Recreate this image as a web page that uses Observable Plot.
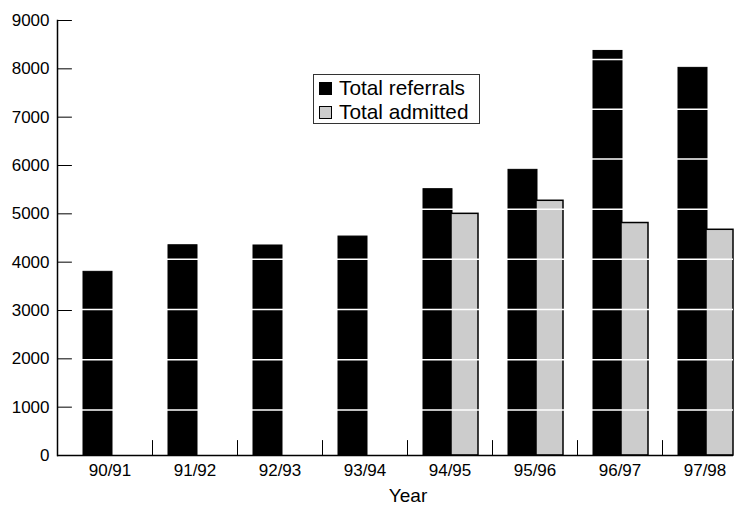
<!DOCTYPE html>
<html>
<head>
<meta charset="utf-8">
<script src="https://cdn.jsdelivr.net/npm/d3@7"></script>
<script src="https://cdn.jsdelivr.net/npm/@observablehq/plot@0.6"></script>
<style>
  html, body { margin: 0; padding: 0; background: white; }
  #wrap { position: relative; width: 746px; height: 506px; font-family: "Liberation Sans", Arial, Helvetica, sans-serif; }
  #legend { position: absolute; left: 313px; top: 74px; width: 165px; height: 47px; border: 1.5px solid #333; background: white; padding-top: 1px; }
  .row { display: flex; align-items: center; height: 24px; font-size: 20.8px; color: black; }
  .sw { width: 13px; height: 13px; margin-left: 5px; margin-right: 7px; box-sizing: border-box; border: 1px solid black; }
</style>
</head>
<body>
<div id="wrap"></div>
<script>
const years = ["90/91", "91/92", "92/93", "93/94", "94/95", "95/96", "96/97", "97/98"];
const referrals = [3800, 4350, 4345, 4530, 5510, 5910, 8370, 8020];
const admitted = [null, null, null, null, 5000, 5270, 4810, 4670];
const yTicks = [0, 1000, 2000, 3000, 4000, 5000, 6000, 7000, 8000, 9000];
const gridLines = [940, 1980, 3020, 4060, 5095, 6135, 7165, 8195];
const seriesNames = ["Total referrals", "Total admitted"];
const seriesColors = ["#000000", "#cccccc"];

const refData = years.map((year, i) => ({year, value: referrals[i]}));
const admData = years.map((year, i) => ({year, value: admitted[i]})).filter(d => d.value != null);

const xRange = [67, 747];
const half = (xRange[1] - xRange[0]) / years.length / 2;
const tickShape = {draw(context, l) { context.moveTo(0, 0); context.lineTo(0, -l); }};

const chart = Plot.plot({
  width: 746,
  height: 506,
  marginLeft: 57,
  marginRight: 13,
  marginTop: 20,
  marginBottom: 51,
  style: {fontFamily: "'Liberation Sans', Arial, Helvetica, sans-serif", background: "white", color: "black"},
  x: {type: "band", domain: years, range: xRange, padding: 0, label: null},
  y: {domain: [0, 9000], label: null},
  marks: [
    Plot.barY(refData, {x: "year", y: "value", fill: seriesColors[0], stroke: "black", strokeWidth: 1, insetLeft: 16, insetRight: 40}),
    Plot.barY(admData, {x: "year", y: "value", fill: seriesColors[1], stroke: "black", strokeWidth: 1.5, insetLeft: 44, insetRight: 14}),
    Plot.ruleY(gridLines, {stroke: "white", strokeWidth: 1.5}),
    Plot.frame({anchor: "left", stroke: "black", strokeWidth: 1.5}),
    Plot.ruleY([0], {stroke: "black", strokeWidth: 1.5}),
    Plot.vector(yTicks, {y: d => d, frameAnchor: "left", length: 14, rotate: 90, anchor: "start", shape: tickShape, stroke: "black", strokeWidth: 1}),
    Plot.vector(years.slice(1), {x: d => d, frameAnchor: "bottom", length: 15, anchor: "start", shape: tickShape, dx: -half, stroke: "black", strokeWidth: 1}),
    Plot.axisY(yTicks, {tickSize: 0, tickPadding: 8, fontSize: 17, label: null, tickFormat: d3.format("d")}),
    Plot.axisX({tickSize: 0, tickPadding: 8, fontSize: 17, label: null}),
    Plot.text(["Year"], {frameAnchor: "bottom", lineAnchor: "bottom", dy: 46.5, dx: 12.5, fontSize: 19, fill: "black"})
  ]
});

const wrap = document.getElementById("wrap");
wrap.appendChild(chart);

const legend = document.createElement("div");
legend.id = "legend";
seriesNames.forEach((name, i) => {
  const row = document.createElement("div");
  row.className = "row";
  const sw = document.createElement("span");
  sw.className = "sw";
  sw.style.background = seriesColors[i];
  const label = document.createElement("span");
  label.textContent = name;
  row.appendChild(sw);
  row.appendChild(label);
  legend.appendChild(row);
});
wrap.appendChild(legend);
</script>
</body>
</html>
